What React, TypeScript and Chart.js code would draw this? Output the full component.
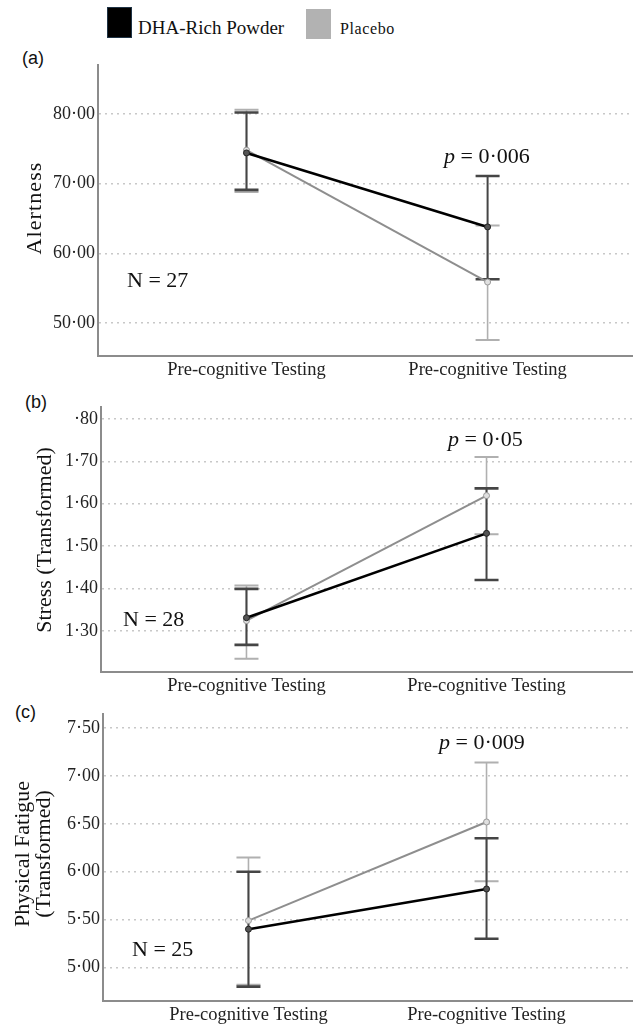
import React, { useEffect, useRef } from "react";
import { Chart, registerables } from "chart.js";

Chart.register(...registerables);

// ---------- DATA ----------
const categories = ["Pre-cognitive Testing", "Pre-cognitive Testing"];
const seriesNames = ["DHA-Rich Powder", "Placebo"];

// (a) Alertness
const alertDha = [74.4, 63.8];
const alertDhaLow = [69.1, 56.3];
const alertDhaHigh = [80.2, 71.1];
const alertPlacebo = [74.8, 55.9];
const alertPlaceboLow = [68.8, 47.6];
const alertPlaceboHigh = [80.6, 64.0];
const alertTicks = [50, 60, 70, 80];
const alertTickLabels = ["50·00", "60·00", "70·00", "80·00"];

// (b) Stress (Transformed)
const stressDha = [1.331, 1.53];
const stressDhaLow = [1.267, 1.42];
const stressDhaHigh = [1.399, 1.636];
const stressPlacebo = [1.324, 1.619];
const stressPlaceboLow = [1.234, 1.528];
const stressPlaceboHigh = [1.407, 1.71];
const stressTicks = [1.3, 1.4, 1.5, 1.6, 1.7, 1.8];
const stressTickLabels = ["1·30", "1·40", "1·50", "1·60", "1·70", "·80"];

// (c) Physical Fatigue (Transformed)
const fatigueDha = [5.4, 5.82];
const fatigueDhaLow = [4.8, 5.3];
const fatigueDhaHigh = [6.0, 6.35];
const fatiguePlacebo = [5.49, 6.52];
const fatiguePlaceboLow = [4.82, 5.9];
const fatiguePlaceboHigh = [6.15, 7.14];
const fatigueTicks = [5.0, 5.5, 6.0, 6.5, 7.0, 7.5];
const fatigueTickLabels = ["5·00", "5·50", "6·00", "6·50", "7·00", "7·50"];

const SERIF = "'Liberation Serif', 'Times New Roman', serif";
const SANS = "'Liberation Sans', Arial, sans-serif";
const DHA_COLOR = "#000000";
const PLACEBO_COLOR = "#8e8e8e";
const DHA_ERR = "#454545";
const PLACEBO_ERR = "#b0b0b0";

type Panel = {
  label: string;
  labelX: number;
  labelY: number;
  canvasTop: number;
  canvasHeight: number;
  padTop: number;
  yAxisWidth: number;
  xAxisHeight: number;
  xMin: number;
  xMax: number;
  yMin: number;
  yMax: number;
  ticks: number[];
  tickLabels: string[];
  dha: number[];
  dhaLow: number[];
  dhaHigh: number[];
  placebo: number[];
  placeboLow: number[];
  placeboHigh: number[];
  titleLines: string[];
  titleBaselines: number[];
  titleCenterY: number;
  titleSpacing: number;
  nText: string;
  nX: number;
  nY: number;
  pText: string;
  pX: number;
  pY: number;
};

const panels: Panel[] = [
  {
    label: "(a)", labelX: 22, labelY: 48,
    canvasTop: 40, canvasHeight: 345, padTop: 25, yAxisWidth: 98, xAxisHeight: 29,
    xMin: -0.616, xMax: 1.599, yMin: 45.3, yMax: 87,
    ticks: alertTicks, tickLabels: alertTickLabels,
    dha: alertDha, dhaLow: alertDhaLow, dhaHigh: alertDhaHigh,
    placebo: alertPlacebo, placeboLow: alertPlaceboLow, placeboHigh: alertPlaceboHigh,
    titleLines: ["Alertness"], titleBaselines: [41], titleCenterY: 208, titleSpacing: 1.1,
    nText: "N = 27", nX: 127, nY: 287,
    pText: " = 0·006", pX: 444, pY: 163,
  },
  {
    label: "(b)", labelX: 25, labelY: 392,
    canvasTop: 385, canvasHeight: 315, padTop: 22, yAxisWidth: 101, xAxisHeight: 28,
    xMin: -0.606, xMax: 1.606, yMin: 1.203, yMax: 1.828,
    ticks: stressTicks, tickLabels: stressTickLabels,
    dha: stressDha, dhaLow: stressDhaLow, dhaHigh: stressDhaHigh,
    placebo: stressPlacebo, placeboLow: stressPlaceboLow, placeboHigh: stressPlaceboHigh,
    titleLines: ["Stress (Transformed)"], titleBaselines: [51], titleCenterY: 540, titleSpacing: 0,
    nText: "N = 28", nX: 123, nY: 626,
    pText: " = 0·05", pX: 448, pY: 446,
  },
  {
    label: "(c)", labelX: 15, labelY: 702,
    canvasTop: 700, canvasHeight: 327, padTop: 8, yAxisWidth: 103, xAxisHeight: 26,
    xMin: -0.611, xMax: 1.611, yMin: 4.65, yMax: 7.65,
    ticks: fatigueTicks, tickLabels: fatigueTickLabels,
    dha: fatigueDha, dhaLow: fatigueDhaLow, dhaHigh: fatigueDhaHigh,
    placebo: fatiguePlacebo, placeboLow: fatiguePlaceboLow, placeboHigh: fatiguePlaceboHigh,
    titleLines: ["Physical Fatigue", "(Transformed)"], titleBaselines: [29, 50], titleCenterY: 854, titleSpacing: 0,
    nText: "N = 25", nX: 132, nY: 956,
    pText: " = 0·009", pX: 439, pY: 749,
  },
];

function makeOverlay(p: Panel) {
  return {
    id: "overlay",
    beforeDatasetsDraw(chart: any) {
      const ctx = chart.ctx;
      const xs = chart.scales.x;
      const ys = chart.scales.y;
      const bars = [
        { low: p.placeboLow, high: p.placeboHigh, color: PLACEBO_ERR, w: 1.6, capW: 2 },
        { low: p.dhaLow, high: p.dhaHigh, color: DHA_ERR, w: 2, capW: 2.6 },
      ];
      ctx.save();
      bars.forEach((b) => {
        for (let i = 0; i < b.low.length; i++) {
          const x = xs.getPixelForValue(i);
          const y1 = ys.getPixelForValue(b.low[i]);
          const y2 = ys.getPixelForValue(b.high[i]);
          ctx.strokeStyle = b.color;
          ctx.lineWidth = b.w;
          ctx.beginPath();
          ctx.moveTo(x, y1);
          ctx.lineTo(x, y2);
          ctx.stroke();
          ctx.lineWidth = b.capW;
          ctx.beginPath();
          ctx.moveTo(x - 12, y1);
          ctx.lineTo(x + 12, y1);
          ctx.moveTo(x - 12, y2);
          ctx.lineTo(x + 12, y2);
          ctx.stroke();
        }
      });
      ctx.restore();
    },
    afterDraw(chart: any) {
      const ctx = chart.ctx;
      const top = p.canvasTop;
      ctx.save();
      // y axis title
      ctx.fillStyle = "#111";
      ctx.font = `22px ${SERIF}`;
      ctx.textAlign = "center";
      ctx.textBaseline = "alphabetic";
      (ctx as any).letterSpacing = `${p.titleSpacing}px`;
      p.titleLines.forEach((t, i) => {
        ctx.save();
        ctx.translate(p.titleBaselines[i], p.titleCenterY - top);
        ctx.rotate(-Math.PI / 2);
        ctx.fillText(t, 0, 0);
        ctx.restore();
      });
      (ctx as any).letterSpacing = "0px";
      // N label
      ctx.textAlign = "left";
      ctx.font = `22px ${SERIF}`;
      ctx.fillText(p.nText, p.nX, p.nY - top);
      // p label
      ctx.font = `italic 22px ${SERIF}`;
      ctx.fillText("p", p.pX, p.pY - top);
      const w = ctx.measureText("p").width;
      ctx.font = `22px ${SERIF}`;
      ctx.fillText(p.pText, p.pX + w, p.pY - top);
      ctx.restore();
    },
  };
}

function PanelChart({ p }: { p: Panel }) {
  const ref = useRef<HTMLCanvasElement | null>(null);
  useEffect(() => {
    if (!ref.current) return;
    const chart = new Chart(ref.current, {
      type: "line",
      data: {
        datasets: [
          {
            label: seriesNames[0],
            data: p.dha.map((v, i) => ({ x: i, y: v })),
            borderColor: DHA_COLOR,
            borderWidth: 2.6,
            pointRadius: 3,
            pointBackgroundColor: "#555",
            pointBorderColor: "#222",
            pointBorderWidth: 1,
            tension: 0,
          },
          {
            label: seriesNames[1],
            data: p.placebo.map((v, i) => ({ x: i, y: v })),
            borderColor: PLACEBO_COLOR,
            borderWidth: 2,
            pointRadius: 3,
            pointBackgroundColor: "#e0e0e0",
            pointBorderColor: "#999",
            pointBorderWidth: 1,
            tension: 0,
          },
        ],
      },
      options: {
        animation: false,
        responsive: false,
        maintainAspectRatio: false,
        devicePixelRatio: 1,
        layout: { padding: { top: p.padTop, right: 3, left: 0, bottom: 0 } },
        plugins: { legend: { display: false }, tooltip: { enabled: false } },
        scales: {
          x: {
            type: "linear",
            min: p.xMin,
            max: p.xMax,
            afterBuildTicks: (s: any) => {
              s.ticks = categories.map((_, i) => ({ value: i }));
            },
            afterFit: (s: any) => {
              s.height = p.xAxisHeight;
            },
            grid: { display: false, drawTicks: false },
            border: { display: true, color: "#8c8c8c", width: 2 },
            ticks: {
              callback: (_v: any, i: number) => categories[i],
              autoSkip: false,
              maxRotation: 0,
              padding: 3,
              color: "#222",
              font: { family: SERIF, size: 18.5 },
            },
          },
          y: {
            type: "linear",
            min: p.yMin,
            max: p.yMax,
            afterBuildTicks: (s: any) => {
              s.ticks = p.ticks.map((v) => ({ value: v }));
            },
            afterFit: (s: any) => {
              s.width = p.yAxisWidth;
            },
            grid: { color: "#c8c8c8", lineWidth: 1.5, drawTicks: false },
            border: { display: true, color: "#8c8c8c", width: 2, dash: [2, 4] },
            ticks: {
              callback: (_v: any, i: number) => p.tickLabels[i],
              autoSkip: false,
              padding: 3,
              color: "#222",
              font: { family: SERIF, size: 18 },
            },
          },
        },
      } as any,
      plugins: [makeOverlay(p)],
    });
    return () => chart.destroy();
  }, [p]);
  return (
    <canvas
      ref={ref}
      width={637}
      height={p.canvasHeight}
      style={{ position: "absolute", left: 0, top: p.canvasTop, width: 637, height: p.canvasHeight }}
    />
  );
}

export default function App() {
  return (
    <div
      style={{
        position: "absolute",
        left: 0,
        top: 0,
        width: 637,
        height: 1027,
        background: "#fff",
        overflow: "hidden",
      }}
    >
      {/* legend */}
      <div style={{ position: "absolute", left: 107, top: 7, width: 23, height: 29, background: "#000", border: "1px solid #1f3345" }} />
      <div style={{ position: "absolute", left: 138, top: 18, fontFamily: SERIF, fontSize: 19, lineHeight: "20px", color: "#111", whiteSpace: "nowrap" }}>
        {seriesNames[0]}
      </div>
      <div style={{ position: "absolute", left: 306, top: 9, width: 25, height: 30, background: "#b2b2b2" }} />
      <div style={{ position: "absolute", left: 340, top: 19, fontFamily: SERIF, fontSize: 16, letterSpacing: "0.6px", lineHeight: "20px", color: "#111", whiteSpace: "nowrap" }}>
        {seriesNames[1]}
      </div>
      {panels.map((p) => (
        <div
          key={p.label}
          style={{ position: "absolute", left: p.labelX, top: p.labelY, fontFamily: SANS, fontSize: 18, lineHeight: "20px", color: "#111" }}
        >
          {p.label}
        </div>
      ))}
      {panels.map((p) => (
        <PanelChart key={p.label + "c"} p={p} />
      ))}
    </div>
  );
}
